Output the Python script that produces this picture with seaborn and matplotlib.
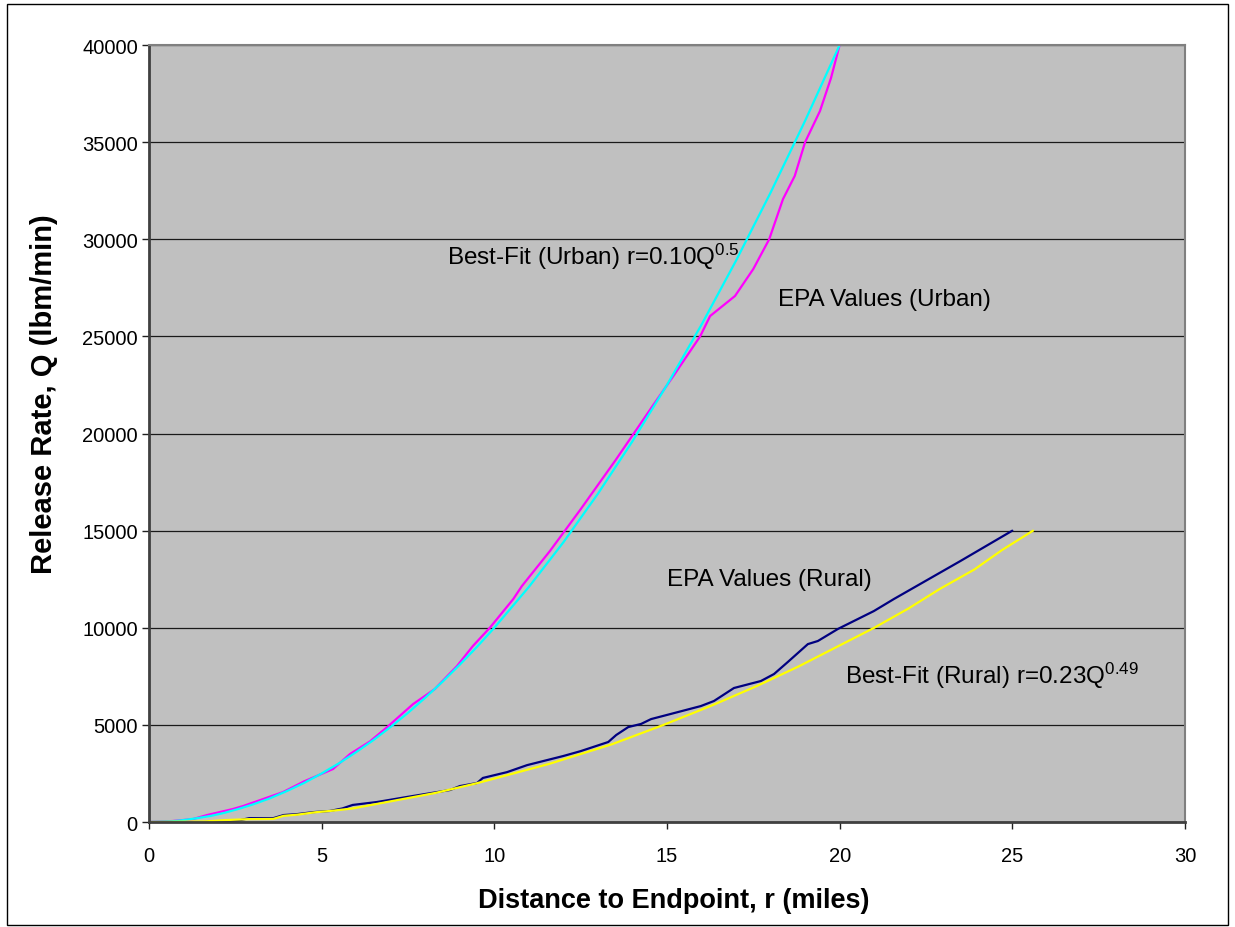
import pandas as pd
import numpy as np
import matplotlib
matplotlib.use("Agg")
import matplotlib.pyplot as plt
import seaborn as sns
from matplotlib.patches import Rectangle

# EPA values (urban)
urban_epa_r = [0, 0.67, 1.27, 1.68, 2.43, 2.72, 3.3, 3.88, 4.5, 5.33, 5.82, 6.4, 6.9, 7.65,
               7.99, 8.28, 8.92, 9.38, 9.87, 10.55, 10.8, 11.61, 12.5, 13.5, 14.5, 15.2,
               15.96, 16.25, 16.97, 17.5, 17.96, 18.36, 18.7, 19.0, 19.43, 19.75, 20.0]
urban_epa_q = [0, 50, 150, 360, 670, 820, 1180, 1540, 2100, 2730, 3500, 4150, 4890, 6075,
               6490, 6850, 8030, 9060, 10000, 11480, 12150, 13950, 16100, 18600, 21200, 23000,
               25000, 26050, 27080, 28470, 30000, 32070, 33260, 35000, 36600, 38300, 40000]

# best fit (urban)
urban_fit_r = [0, 0.67, 1.0, 1.4, 1.8, 2.2, 2.6, 3.0, 3.5, 4.0, 4.5, 5.0, 5.5, 6.0, 6.5,
               7.0, 7.5, 8.0, 8.5, 9.0, 9.5, 10.0, 11.0, 12.0, 13.0, 14.0, 15.0, 16.0,
               17.0, 18.0, 19.0, 20.0]
urban_fit_q = [0, 40, 100, 200, 320, 480, 680, 900, 1220, 1600, 2020, 2500, 3020, 3600, 4220,
               4900, 5620, 6400, 7220, 8100, 9020, 10000, 12100, 14400, 16900, 19600, 22500,
               25600, 28900, 32400, 36100, 40000]

# EPA values (rural)
rural_epa_r = [0, 1.6, 2.6, 2.9, 3.6, 3.9, 4.3, 4.75, 5.24, 5.6, 5.9, 6.6, 7.47, 8.72, 9.0,
               9.5, 9.67, 10.37, 10.95, 12.0, 12.5, 13.3, 13.53, 13.88, 14.25, 14.54, 15.1,
               15.98, 16.36, 16.94, 17.72, 18.1, 18.5, 19.08, 19.37, 19.95, 20.99, 21.57,
               23.5, 25.0]
rural_epa_q = [0, 0, 80, 200, 200, 360, 410, 510, 570, 700, 880, 1030, 1290, 1650, 1850,
               2010, 2270, 2570, 2930, 3400, 3650, 4120, 4480, 4890, 5050, 5300, 5560,
               5970, 6230, 6900, 7260, 7620, 8240, 9160, 9320, 9940, 10860, 11480,
               13440, 15000]

# best fit (rural)
rural_fit_r = [0, 1.6, 2.2, 2.9, 3.6, 3.9, 4.3, 4.8, 5.3, 5.9, 6.8, 8.3, 9.5, 11.6, 13.4,
               14.9, 16.3, 17.6, 18.8, 19.9, 21.0, 22.0, 22.9, 23.9, 24.7, 25.6]
rural_fit_q = [0, 30, 100, 150, 160, 320, 380, 500, 580, 700, 1000, 1500, 2000, 3000, 4000,
               5000, 6000, 7000, 8000, 9000, 10000, 11000, 12000, 13000, 14000, 15000]

sns.set_style("white")
plt.rcParams['font.family'] = ['Liberation Sans', 'DejaVu Sans']
plt.rcParams['mathtext.fontset'] = 'custom'
plt.rcParams['mathtext.rm'] = 'Liberation Sans'
plt.rcParams['mathtext.default'] = 'regular'
plt.rcParams['text.color'] = 'black'
plt.rcParams['axes.labelcolor'] = 'black'

fig = plt.figure(figsize=(12.35, 9.28), dpi=100)
ax = fig.add_axes([0.1206, 0.1131, 0.8389, 0.8373])
ax.set_facecolor('#C0C0C0')

series = [
    (urban_epa_r, urban_epa_q, '#FF00FF'),
    (urban_fit_r, urban_fit_q, '#00FFFF'),
    (rural_epa_r, rural_epa_q, '#000080'),
    (rural_fit_r, rural_fit_q, '#FFFF00'),
]
for r, q, c in series:
    df = pd.DataFrame({'r': r, 'Q': q})
    sns.lineplot(data=df, x='r', y='Q', sort=False, color=c, linewidth=1.6, ax=ax)

ax.set_xlim(0, 30)
ax.set_ylim(0, 40000)
ax.set_xticks(range(0, 31, 5))
ax.set_yticks(range(0, 40001, 5000))
ax.yaxis.grid(True, color='#1a1a1a', linewidth=0.9)
ax.xaxis.grid(False)
ax.set_axisbelow(True)

for s in ['left', 'bottom']:
    ax.spines[s].set_color('#404040')
    ax.spines[s].set_linewidth(2)
for s in ['top', 'right']:
    ax.spines[s].set_color('#808080')
    ax.spines[s].set_linewidth(1.5)

ax.tick_params(axis='both', direction='out', length=5, width=1, color='#202020',
               labelsize=14.5, labelcolor='black', left=True, bottom=True)
ax.tick_params(axis='y', pad=3)
ax.tick_params(axis='x', pad=12)

ax.set_xlabel('Distance to Endpoint, r (miles)', fontsize=19.5, fontweight='bold', va='top')
ax.set_ylabel('Release Rate, Q (lbm/min)', fontsize=21, fontweight='bold')
ax.xaxis.set_label_coords(0.507, -0.083)
ax.yaxis.set_label_coords(-0.088, 0.552)

ax.text(8.63, 29140, r'Best-Fit (Urban) r=0.10Q$^{0.5}$', fontsize=17.5, va='center')
ax.text(18.22, 26920, 'EPA Values (Urban)', fontsize=17.5, va='center')
ax.text(15.0, 12510, 'EPA Values (Rural)', fontsize=17.5, va='center')
ax.text(20.16, 7570, r'Best-Fit (Rural) r=0.23Q$^{0.49}$', fontsize=17.5, va='center')

fig.patches.append(Rectangle((7 / 1235, 2 / 928), 1221 / 1235, 921 / 928,
                             transform=fig.transFigure, fill=False,
                             edgecolor='black', linewidth=1))

fig.savefig('out.png', dpi=100)
